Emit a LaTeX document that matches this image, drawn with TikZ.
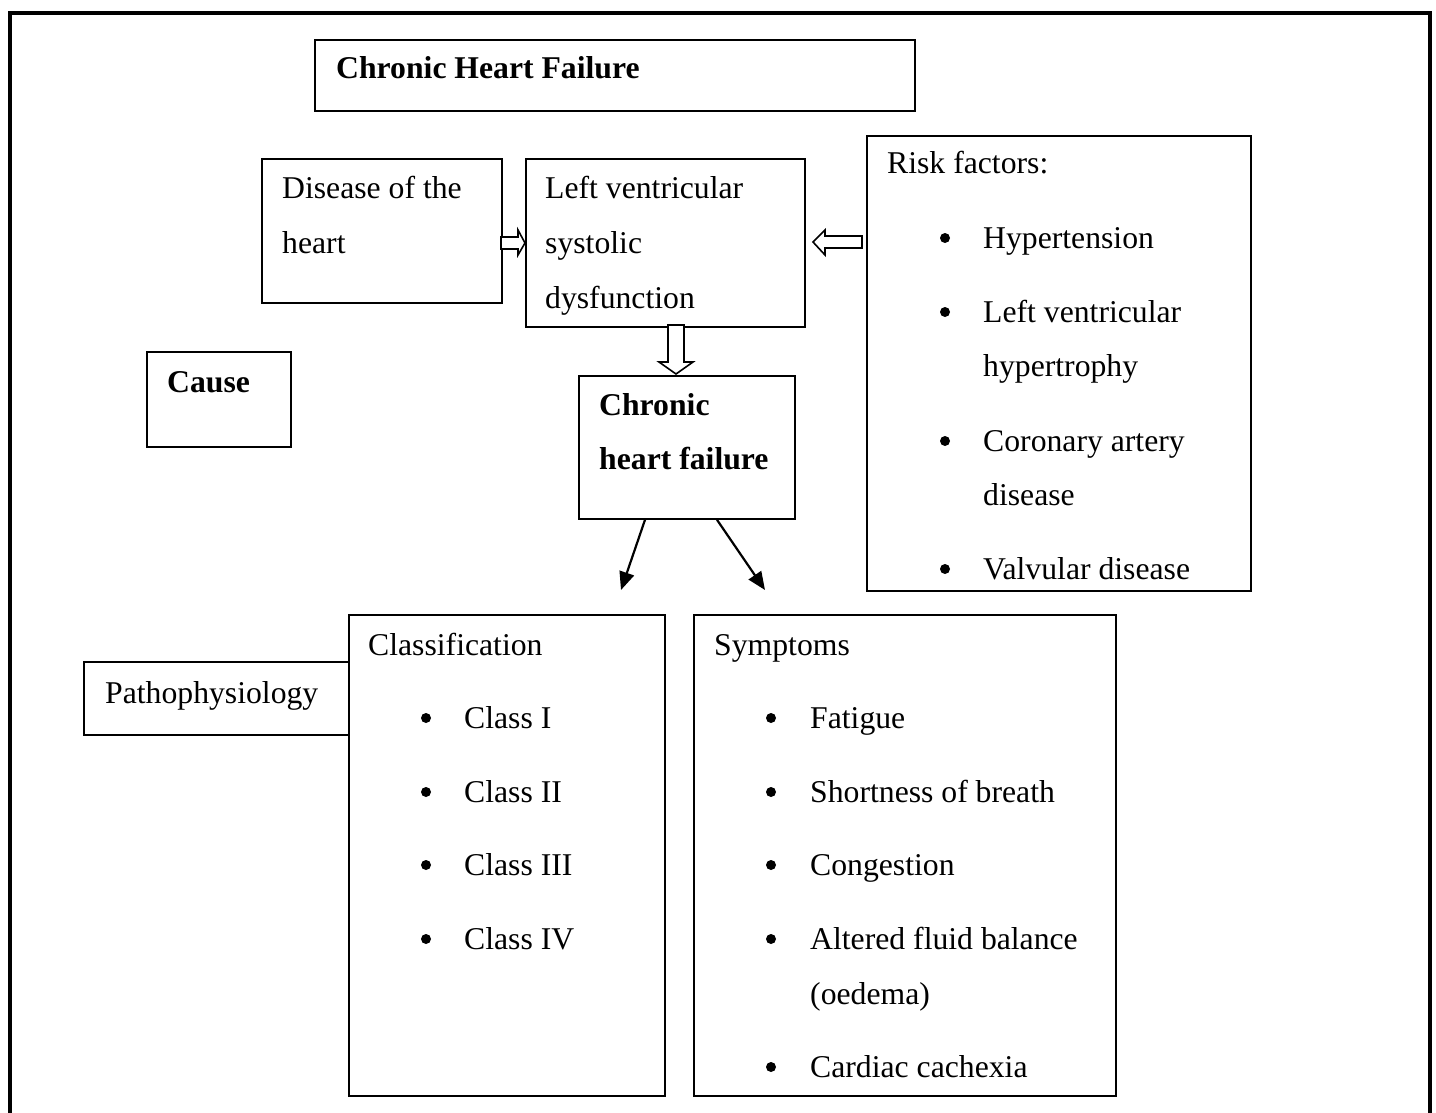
\documentclass[tikz,border=0pt]{standalone}
\usepackage{fontspec}
\setmainfont{Liberation Serif}
\usetikzlibrary{arrows.meta,calc}
\begin{document}
\begin{tikzpicture}[x=1pt,y=-1pt,
  box/.style={draw=black,line width=1.8pt,rectangle,inner sep=0pt,anchor=north west},
  txt/.style={anchor=base west,inner sep=0pt,font=\fontsize{31.7}{38}\selectfont},
  btxt/.style={txt,font=\fontsize{31.7}{38}\selectfont\bfseries},
  blk/.style={draw=black,line width=1.6pt,fill=white,line join=miter},
  ln/.style={draw=black,line width=2.2pt,-{Triangle[length=18pt,width=15pt]}}]
\useasboundingbox (0,0) rectangle (1436,1113);
\clip (0,0) rectangle (1436,1113);
% outer frame
\draw[line width=4pt] (9.5,1130) -- (9.5,13) -- (1429.5,13) -- (1429.5,1130);
% boxes
\node[box,minimum width=600,minimum height=71] (title) at (314,39) {};
\node[box,minimum width=240,minimum height=144] (dis) at (261,158) {};
\node[box,minimum width=279,minimum height=168] (lv) at (525,158) {};
\node[box,minimum width=384,minimum height=455] (risk) at (866,135) {};
\node[box,minimum width=144,minimum height=95] (cause) at (146,351) {};
\node[box,minimum width=216,minimum height=143] (chf) at (578,375) {};
\node[box,minimum width=316,minimum height=481] (cls) at (348,614) {};
\node[box,minimum width=422,minimum height=481] (sym) at (693,614) {};
\node[box,minimum width=265,minimum height=73] (path) at (83,661) {};
% texts
\node[btxt] (t1) at (336,79) {Chronic Heart Failure};
\node[txt] (d1) at (282,199) {Disease of the};
\node[txt] (d2) at (282,253) {heart};
\node[txt] (l1) at (545,199) {Left ventricular};
\node[txt] (l2) at (545,253) {systolic};
\node[txt] (l3) at (545,308) {dysfunction};
\node[txt] (r0) at (887,174) {Risk factors:};
\node[txt] (r1) at (983,248) {Hypertension};
\node[txt] (r2) at (983,322) {Left ventricular};
\node[txt] (r3) at (983,376) {hypertrophy};
\node[txt] (r4) at (983,451) {Coronary artery};
\node[txt] (r5) at (983,505) {disease};
\node[txt] (r6) at (983,579) {Valvular disease};
\node[btxt] (c1) at (167,392) {Cause};
\node[btxt] (h1) at (599,415) {Chronic};
\node[btxt] (h2) at (599,469) {heart failure};
\node[txt] (k0) at (368,655) {Classification};
\node[txt] (k1) at (464,728) {Class I};
\node[txt] (k2) at (464,802) {Class II};
\node[txt] (k3) at (464,875) {Class III};
\node[txt] (k4) at (464,949) {Class IV};
\node[txt] (s0) at (714,655) {Symptoms};
\node[txt] (s1) at (810,728) {Fatigue};
\node[txt] (s2) at (810,802) {Shortness of breath};
\node[txt] (s3) at (810,875) {Congestion};
\node[txt] (s4) at (810,949) {Altered fluid balance};
\node[txt] (s5) at (810,1004) {(oedema)};
\node[txt] (s6) at (810,1077) {Cardiac cachexia};
\node[txt] (p1) at (105,703) {Pathophysiology};
% bullets
\foreach \y in {248,322,451,579} \fill (945,\y-10) circle (5);
\foreach \y in {728,802,875,949} \fill (426,\y-10) circle (5);
\foreach \y in {728,802,875,949,1077} \fill (771,\y-10) circle (5);
% block arrows
\draw[blk] (501,237) -- (518,237) -- (518,230) -- (525,243) -- (518,255) -- (518,249) -- (501,249) -- cycle;
\draw[blk] (862,236) -- (825,236) -- (825,230) -- (813,242) -- (825,255) -- (825,248) -- (862,248) -- cycle;
\draw[blk] (668,325) -- (684,325) -- (684,362) -- (693,362) -- (676,374) -- (659,362) -- (668,362) -- cycle;
% line arrows
\coordinate (e1) at (621,590);
\coordinate (e2) at (765,590);
\draw[ln] ($(chf.south west)+(67,0)$) -- (e1);
\draw[ln] ($(chf.south west)+(139,0)$) -- (e2);
\end{tikzpicture}
\end{document}
